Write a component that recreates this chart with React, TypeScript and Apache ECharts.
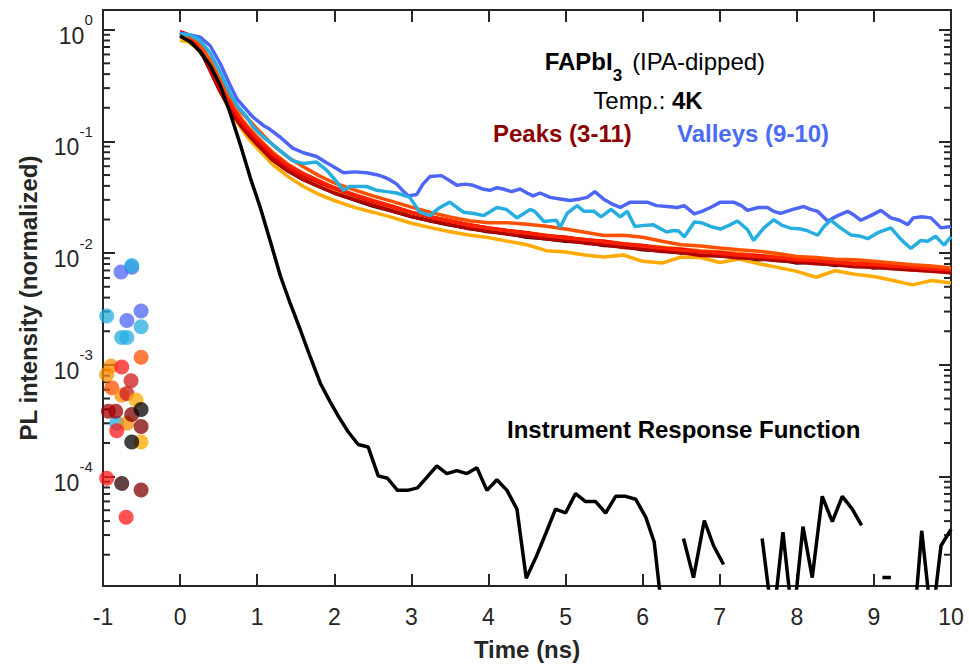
import React, { useEffect, useRef } from "react";
import * as echarts from "echarts";

const FONT = '"Liberation Sans", Arial, Helvetica, sans-serif';
const INK = "#262626";

// ---------- axes ----------
const xMin = -1;
const xMax = 10;
const xStep = 1;
const yMin = 1.05e-5;
const yMax = 1.5;
const yMajorTicks = [1e-4, 1e-3, 1e-2, 1e-1, 1];
const yMinorTicks = [
  2e-5, 3e-5, 4e-5, 5e-5, 6e-5, 7e-5, 8e-5, 9e-5,
  2e-4, 3e-4, 4e-4, 5e-4, 6e-4, 7e-4, 8e-4, 9e-4,
  2e-3, 3e-3, 4e-3, 5e-3, 6e-3, 7e-3, 8e-3, 9e-3,
  2e-2, 3e-2, 4e-2, 5e-2, 6e-2, 7e-2, 8e-2, 9e-2,
  2e-1, 3e-1, 4e-1, 5e-1, 6e-1, 7e-1, 8e-1, 9e-1,
];

// ---------- peaks (3-11) ----------
const peakNames = ["Peak 3", "Peak 4", "Peak 5", "Peak 6", "Peak 7", "Peak 8", "Peak 9", "Peak 10", "Peak 11"];
const peakColors = ["#2b0000", "#800000", "#b00000", "#e00000", "#ff2000", "#ff5000", "#ff7800", "#ff9500", "#ffab00"];
const peakDrawOrder = [8, 0, 1, 7, 2, 6, 3, 4, 5];
const peakTime = [
  0, 0.1, 0.2, 0.3, 0.4, 0.5, 0.6, 0.7, 0.8, 0.9, 1.0,
  1.2, 1.4, 1.6, 1.8, 2.0,
  2.25, 2.5, 2.75, 3.0, 3.25, 3.5, 3.75, 4.0, 4.25, 4.5, 4.75, 5.0,
  5.25, 5.5, 5.75, 6.0, 6.25, 6.5, 6.75, 7.0, 7.25, 7.5, 7.75, 8.0,
  8.25, 8.5, 8.75, 9.0, 9.25, 9.5, 9.75, 10.0,
];
const peak3 = [
  0.90, 0.86, 0.74, 0.58, 0.42, 0.30, 0.225, 0.17, 0.137, 0.113, 0.095,
  0.069, 0.055, 0.046, 0.040, 0.035,
  0.0305, 0.0268, 0.0242, 0.0216, 0.0197, 0.0181, 0.0170, 0.0158, 0.0152, 0.0141, 0.0137, 0.0130,
  0.0127, 0.0119, 0.0117, 0.0109, 0.0107, 0.0102, 0.0101, 0.0096, 0.0095, 0.0089, 0.0090, 0.0083,
  0.0085, 0.0079, 0.0081, 0.0075, 0.0077, 0.0072, 0.0074, 0.0069,
];
const peak4 = [
  0.95, 0.90, 0.79, 0.62, 0.45, 0.32, 0.24, 0.185, 0.148, 0.122, 0.103,
  0.075, 0.059, 0.049, 0.043, 0.037,
  0.0325, 0.0285, 0.0258, 0.0228, 0.0210, 0.0190, 0.0179, 0.0165, 0.0160, 0.0148, 0.0145, 0.0136,
  0.0134, 0.0124, 0.0122, 0.0114, 0.0112, 0.0105, 0.0105, 0.0098, 0.0099, 0.0093, 0.0093, 0.0087,
  0.0088, 0.0082, 0.0082, 0.0078, 0.0078, 0.0076, 0.0072, 0.0072,
];
const peak5 = [
  0.93, 0.88, 0.76, 0.59, 0.42, 0.30, 0.225, 0.172, 0.136, 0.113, 0.095,
  0.069, 0.055, 0.046, 0.040, 0.035,
  0.0308, 0.0272, 0.0243, 0.0216, 0.0198, 0.0183, 0.0168, 0.0160, 0.0150, 0.0144, 0.0136, 0.0132,
  0.0125, 0.0121, 0.0114, 0.0111, 0.0105, 0.0103, 0.0097, 0.0096, 0.0092, 0.0091, 0.0087, 0.0085,
  0.0082, 0.0080, 0.0077, 0.0076, 0.0074, 0.0072, 0.0070, 0.0068,
];
const peak6 = [
  0.96, 0.91, 0.79, 0.61, 0.43, 0.31, 0.235, 0.18, 0.145, 0.121, 0.102,
  0.075, 0.060, 0.050, 0.0435, 0.0385,
  0.0335, 0.0295, 0.0265, 0.0235, 0.0214, 0.0197, 0.0181, 0.0171, 0.0161, 0.0155, 0.0145, 0.0141,
  0.0133, 0.0130, 0.0122, 0.0119, 0.0112, 0.0110, 0.0104, 0.0103, 0.0098, 0.0097, 0.0092, 0.0091,
  0.0087, 0.0087, 0.0081, 0.0082, 0.0077, 0.0078, 0.0073, 0.0075,
];
const peak7 = [
  0.94, 0.90, 0.80, 0.64, 0.47, 0.34, 0.255, 0.195, 0.155, 0.128, 0.108,
  0.079, 0.062, 0.052, 0.045, 0.039,
  0.034, 0.030, 0.0267, 0.0236, 0.0215, 0.0198, 0.0182, 0.0171, 0.0161, 0.0153, 0.0146, 0.0139,
  0.0135, 0.0128, 0.0123, 0.0117, 0.0113, 0.0108, 0.0105, 0.0101, 0.0098, 0.0095, 0.0093, 0.0089,
  0.0087, 0.0084, 0.0082, 0.0080, 0.0078, 0.0076, 0.0074, 0.0072,
];
const peak8 = [
  0.92, 0.90, 0.82, 0.68, 0.52, 0.38, 0.29, 0.225, 0.182, 0.155, 0.13,
  0.094, 0.073, 0.060, 0.050, 0.043,
  0.0375, 0.0330, 0.0295, 0.0262, 0.0235, 0.0214, 0.0198, 0.0190, 0.0190, 0.0184, 0.0177, 0.0167,
  0.0156, 0.0146, 0.0147, 0.0141, 0.0130, 0.0121, 0.0118, 0.0113, 0.0109, 0.0106, 0.0101, 0.0095,
  0.0093, 0.0090, 0.0089, 0.0086, 0.0083, 0.0080, 0.0078, 0.0075,
];
const peak9 = [
  0.90, 0.88, 0.80, 0.65, 0.48, 0.35, 0.26, 0.20, 0.16, 0.132, 0.111,
  0.081, 0.063, 0.052, 0.045, 0.039,
  0.0338, 0.0296, 0.0265, 0.0235, 0.0214, 0.0196, 0.0182, 0.0170, 0.0162, 0.0155, 0.0147, 0.0141,
  0.0135, 0.0130, 0.0124, 0.0119, 0.0115, 0.0111, 0.0107, 0.0104, 0.0101, 0.0097, 0.0095, 0.0092,
  0.0090, 0.0086, 0.0085, 0.0082, 0.0080, 0.0078, 0.0076, 0.0074,
];
const peak10 = [
  0.86, 0.85, 0.77, 0.63, 0.46, 0.33, 0.245, 0.19, 0.15, 0.124, 0.104,
  0.076, 0.059, 0.049, 0.042, 0.0365,
  0.0318, 0.0280, 0.0250, 0.0222, 0.0203, 0.0186, 0.0171, 0.0161, 0.0153, 0.0146, 0.0139, 0.0133,
  0.0128, 0.0122, 0.0117, 0.0112, 0.0108, 0.0104, 0.0101, 0.0097, 0.0094, 0.0091, 0.0088, 0.0086,
  0.0083, 0.0081, 0.0078, 0.0076, 0.0074, 0.0072, 0.0070, 0.0068,
];
const peak11 = [
  0.80, 0.78, 0.70, 0.58, 0.43, 0.30, 0.22, 0.165, 0.13, 0.105, 0.088,
  0.063, 0.049, 0.040, 0.034, 0.030,
  0.0262, 0.0236, 0.0212, 0.0188, 0.0172, 0.0158, 0.0148, 0.0140, 0.0130, 0.0121, 0.0107, 0.0104,
  0.0098, 0.0094, 0.0098, 0.0086, 0.0083, 0.0094, 0.0093, 0.0084, 0.0090, 0.0082, 0.0076, 0.0070,
  0.0062, 0.0071, 0.0066, 0.0063, 0.0058, 0.0053, 0.0058, 0.0055,
];
const peakValues = [peak3, peak4, peak5, peak6, peak7, peak8, peak9, peak10, peak11];

// ---------- valleys (9-10) ----------
const valleyBlueColor = "#4d66f6";
const valleyCyanColor = "#27aee0";
const valleyBlueTime = [
  0, 0.13, 0.26, 0.39, 0.52, 0.65, 0.74, 0.87, 0.95, 1.08,
  1.16, 1.30, 1.46, 1.60, 1.77, 1.90, 1.99, 2.12, 2.26, 2.42,
  2.55, 2.63, 2.72, 2.81, 2.90, 2.96, 3.07, 3.15, 3.24, 3.39,
  3.50, 3.59, 3.70, 3.80, 3.92, 4.02, 4.11, 4.19, 4.30, 4.41,
  4.50, 4.58, 4.67, 4.80, 4.93, 5.06, 5.19, 5.28, 5.38, 5.49,
  5.60, 5.71, 5.84, 5.93, 6.06, 6.18, 6.32, 6.45, 6.54, 6.67,
  6.77, 6.88, 7.01, 7.18, 7.28, 7.36, 7.50, 7.62, 7.70, 7.79,
  7.95, 8.09, 8.18, 8.27, 8.40, 8.53, 8.66, 8.75, 8.83, 8.96,
  9.09, 9.22, 9.33, 9.44, 9.51, 9.62, 9.74, 9.87, 10.0,
];
const valleyBlue = [
  0.93, 0.90, 0.86, 0.72, 0.50, 0.32, 0.24, 0.19, 0.165, 0.14,
  0.13, 0.11, 0.088, 0.080, 0.074, 0.065, 0.060, 0.053, 0.054, 0.053,
  0.051, 0.049, 0.046, 0.042, 0.036, 0.033, 0.034, 0.042, 0.049, 0.050,
  0.045, 0.041, 0.042, 0.041, 0.038, 0.037, 0.039, 0.038, 0.036, 0.038,
  0.035, 0.033, 0.035, 0.032, 0.031, 0.030, 0.031, 0.032, 0.036, 0.031,
  0.028, 0.026, 0.029, 0.029, 0.029, 0.027, 0.0265, 0.026, 0.027, 0.0228,
  0.024, 0.026, 0.029, 0.029, 0.027, 0.0245, 0.026, 0.026, 0.024, 0.023,
  0.025, 0.0265, 0.025, 0.024, 0.0197, 0.022, 0.024, 0.022, 0.020, 0.022,
  0.0245, 0.021, 0.020, 0.0183, 0.021, 0.0215, 0.021, 0.0171, 0.0176,
];
const valleyCyanTime = [
  0, 0.13, 0.26, 0.39, 0.52, 0.65, 0.74, 0.87, 0.95, 1.08,
  1.16, 1.30, 1.46, 1.60, 1.77, 1.90, 2.02, 2.12, 2.20, 2.30,
  2.42, 2.55, 2.68, 2.81, 2.98, 3.11, 3.24, 3.37, 3.50, 3.59,
  3.68, 3.81, 3.94, 4.11, 4.23, 4.37, 4.46, 4.54, 4.60, 4.72,
  4.88, 4.93, 5.02, 5.15, 5.24, 5.37, 5.46, 5.59, 5.71, 5.80,
  5.90, 6.02, 6.14, 6.22, 6.31, 6.40, 6.47, 6.54, 6.67, 6.76,
  6.88, 7.01, 7.12, 7.23, 7.36, 7.44, 7.57, 7.70, 7.81, 7.92,
  8.03, 8.13, 8.27, 8.35, 8.44, 8.57, 8.70, 8.81, 8.92, 9.05,
  9.22, 9.35, 9.48, 9.61, 9.70, 9.80, 9.91, 10.0,
];
const valleyCyan = [
  0.92, 0.90, 0.80, 0.62, 0.42, 0.27, 0.21, 0.165, 0.135, 0.11,
  0.10, 0.083, 0.068, 0.064, 0.066, 0.056, 0.045, 0.037, 0.040, 0.040,
  0.040, 0.037, 0.036, 0.035, 0.032, 0.0236, 0.022, 0.026, 0.029, 0.026,
  0.0236, 0.023, 0.022, 0.026, 0.025, 0.021, 0.023, 0.025, 0.024, 0.0195,
  0.020, 0.0173, 0.023, 0.027, 0.024, 0.024, 0.0214, 0.025, 0.0214, 0.024,
  0.0176, 0.018, 0.0182, 0.017, 0.0157, 0.0162, 0.016, 0.0142, 0.0193, 0.019,
  0.0176, 0.0167, 0.018, 0.0197, 0.0165, 0.0132, 0.017, 0.0202, 0.018, 0.017,
  0.0168, 0.0162, 0.0147, 0.0175, 0.020, 0.017, 0.0148, 0.0145, 0.0137, 0.0155,
  0.0171, 0.0135, 0.0112, 0.0132, 0.013, 0.0144, 0.012, 0.0143,
];

// ---------- instrument response function (null = no positive value, line breaks) ----------
const irfTime = [
  0, 0.13, 0.26, 0.39, 0.52, 0.65, 0.78, 0.91, 1.04, 1.17,
  1.30, 1.43, 1.56, 1.69, 1.82, 1.94, 2.05, 2.18, 2.31, 2.44,
  2.57, 2.69, 2.82, 2.95, 3.08, 3.20, 3.33, 3.46, 3.59, 3.72,
  3.85, 3.98, 4.11, 4.24, 4.37, 4.49, 4.62, 4.75, 4.87, 5.00,
  5.13, 5.26, 5.39, 5.52, 5.65, 5.78, 5.91, 6.04, 6.15, 6.27,
  6.40, 6.53, 6.66, 6.80, 6.92, 7.05, 7.30, 7.55, 7.69, 7.82,
  7.95, 8.08, 8.20, 8.33, 8.46, 8.59, 8.72, 8.84, 8.97, 9.11,
  9.22, 9.35, 9.52, 9.62, 9.75, 9.87, 10.0,
];
const irfValue = [
  0.88, 0.78, 0.64, 0.48, 0.32, 0.18, 0.095, 0.048, 0.026, 0.013,
  0.0064, 0.0036, 0.0021, 0.0012, 7.0e-4, 4.9e-4, 3.6e-4, 2.6e-4, 2.0e-4, 1.9e-4,
  1.05e-4, 1.0e-4, 7.8e-5, 7.8e-5, 8.2e-5, 1.02e-4, 1.29e-4, 1.1e-4, 1.17e-4, 1.1e-4,
  1.24e-4, 7.8e-5, 9.7e-5, 7.8e-5, 5.3e-5, 1.28e-5, 2.0e-5, 3.3e-5, 5.3e-5, 4.9e-5,
  7.3e-5, 6.2e-5, 6.2e-5, 4.9e-5, 6.9e-5, 6.9e-5, 6.5e-5, 4.5e-5, 2.7e-5, 5e-6,
  null, 2.9e-5, 1.3e-5, 4.2e-5, 2.5e-5, 1.7e-5, null, 2.9e-5, 5e-6, 3.3e-5,
  5e-6, 3.7e-5, 1.3e-5, 6.9e-5, 4.1e-5, 6.9e-5, 5.3e-5, 3.8e-5, null, 1.3e-5,
  1.3e-5, null, 5e-6, 3.4e-5, 5e-6, 2.5e-5, 3.5e-5,
];

// ---------- pre-zero noise points ----------
const noiseTime = [
  -0.766, -0.627, -0.506, -0.69,
  -0.627, -0.952, -0.506, -0.757, -0.69, -0.822,
  -0.506, -0.887,
  -0.896, -0.952, -0.757, -0.69,
  -0.757, -0.822, -0.952, -0.70,
  -0.636, -0.69,
  -0.571, -0.506,
  -0.93, -0.835,
  -0.627, -0.506, -0.506,
  -0.506, -0.627,
  -0.757,
];
const noiseValue = [
  6.9e-3, 7.6e-3, 3.1e-3, 2.55e-3,
  7.9e-3, 2.8e-3, 2.25e-3, 1.8e-3, 1.8e-3, 3.1e-4,
  1.2e-3, 6.4e-4,
  1.0e-3, 8.4e-4, 5.5e-4, 3.1e-4,
  9.8e-4, 2.65e-4, 1.0e-4, 4.5e-5,
  7.4e-4, 5.7e-4,
  5.0e-4, 2.1e-4,
  3.95e-4, 3.95e-4,
  3.7e-4, 2.9e-4, 7.85e-5,
  4.1e-4, 2.1e-4,
  9.0e-5,
];
const noiseColor = [
  valleyBlueColor, valleyBlueColor, valleyBlueColor, valleyBlueColor,
  valleyCyanColor, valleyCyanColor, valleyCyanColor, valleyCyanColor, valleyCyanColor, valleyCyanColor,
  "#ff5000", "#ff5000",
  "#ff8c00", "#ff8c00", "#ff8c00", "#ff8c00",
  "#ff1a1a", "#ff1a1a", "#ff1a1a", "#ff1a1a",
  "#cc1a1a", "#cc1a1a",
  "#ffab00", "#ffab00",
  "#a00000", "#a00000",
  "#800000", "#800000", "#800000",
  "#000000", "#000000",
  "#2b0000",
];

const irfColor = "#000000";
const LINE_W = 3.5;
const MAJOR_LEN = 12;
const MINOR_LEN = 7;
const GRID = { left: 103, right: 18, top: 10, bottom: 78 };

function frameLine() {
  return { show: true, onZero: false, lineStyle: { color: INK, width: 2 } };
}
function majorTicks(values: number[] | null) {
  const t: any = { show: true, inside: true, length: MAJOR_LEN, lineStyle: { color: INK, width: 2 } };
  if (values) t.customValues = values;
  return t;
}

function irfSegments() {
  const segs: number[][][] = [];
  let cur: number[][] = [];
  irfTime.forEach((t, i) => {
    const v = irfValue[i];
    if (v === null) {
      if (cur.length) segs.push(cur);
      cur = [];
    } else {
      cur.push([t, v]);
    }
  });
  if (cur.length) segs.push(cur);
  return segs;
}

function textElements() {
  return [
    {
      type: "text",
      x: 655,
      y: 49,
      z: 100,
      style: {
        text: "{b|FAPbI}{sub|3}{r|(IPA-dipped)}{z| }",
        align: "center",
        verticalAlign: "top",
        rich: {
          b: { fontSize: 24, fontWeight: "bold", fontFamily: FONT, fill: "#000", lineHeight: 24, verticalAlign: "top" },
          sub: { fontSize: 17, fontWeight: "bold", fontFamily: FONT, fill: "#000", lineHeight: 17, verticalAlign: "bottom", padding: [0, 10, 0, 0] },
          r: { fontSize: 24, fontFamily: FONT, fill: "#000", lineHeight: 24, verticalAlign: "top" },
          z: { fontSize: 1, lineHeight: 35 },
        },
      },
    },
    {
      type: "text",
      x: 648,
      y: 100,
      z: 100,
      style: {
        text: "{r|Temp.: }{b|4K}",
        align: "center",
        verticalAlign: "middle",
        rich: {
          r: { fontSize: 24, fontFamily: FONT, fill: "#000" },
          b: { fontSize: 24, fontWeight: "bold", fontFamily: FONT, fill: "#000" },
        },
      },
    },
    {
      type: "text",
      x: 493,
      y: 133,
      z: 100,
      style: { text: "Peaks (3-11)", fill: "#8b0000", fontSize: 24, fontWeight: "bold", fontFamily: FONT, align: "left", verticalAlign: "middle" },
    },
    {
      type: "text",
      x: 677,
      y: 133,
      z: 100,
      style: { text: "Valleys (9-10)", fill: "#4a6bf5", fontSize: 24, fontWeight: "bold", fontFamily: FONT, align: "left", verticalAlign: "middle" },
    },
    {
      type: "text",
      x: 507,
      y: 429,
      z: 100,
      style: { text: "Instrument Response Function", fill: "#000", fontSize: 24, fontWeight: "bold", fontFamily: FONT, align: "left", verticalAlign: "middle" },
    },
  ];
}

// Layer 1: frame, axes, ticks, labels and annotations
function buildFrameOption() {
  const yLabelFormatter = (v: number) => {
    const e = Math.round(Math.log10(v));
    return `{b|10}{s|${e}}{z| }`;
  };
  const minorTickSeries = {
    type: "custom",
    data: yMinorTicks.map((v) => [xMin, v]),
    encode: { x: 0, y: 1 },
    clip: false,
    silent: true,
    z: 6,
    renderItem: (p: any, api: any) => {
      const v = api.value(1);
      const a = api.coord([xMin, v]);
      const b = api.coord([xMax, v]);
      return {
        type: "group",
        children: [
          { type: "line", shape: { x1: a[0], y1: a[1], x2: a[0] + MINOR_LEN, y2: a[1] }, style: { stroke: INK, lineWidth: 2 } },
          { type: "line", shape: { x1: b[0] - MINOR_LEN, y1: b[1], x2: b[0], y2: b[1] }, style: { stroke: INK, lineWidth: 2 } },
        ],
      };
    },
  };
  return {
    animation: false,
    grid: GRID,
    xAxis: [
      {
        type: "value",
        position: "bottom",
        min: xMin,
        max: xMax,
        interval: xStep,
        axisLine: frameLine(),
        axisTick: majorTicks(null),
        axisLabel: { color: INK, fontSize: 23, fontFamily: FONT, margin: 19 },
        splitLine: { show: false },
        name: "Time (ns)",
        nameLocation: "middle",
        nameGap: 51,
        nameTextStyle: { color: INK, fontSize: 24, fontWeight: "bold", fontFamily: FONT },
      },
      {
        type: "value",
        position: "top",
        min: xMin,
        max: xMax,
        interval: xStep,
        axisLine: frameLine(),
        axisTick: majorTicks(null),
        axisLabel: { show: false },
        splitLine: { show: false },
      },
    ],
    yAxis: [
      {
        type: "log",
        position: "left",
        min: yMin,
        max: yMax,
        axisLine: frameLine(),
        axisTick: majorTicks(yMajorTicks),
        axisLabel: {
          customValues: yMajorTicks,
          formatter: yLabelFormatter,
          margin: 10,
          rich: {
            b: { fontSize: 23, fontFamily: FONT, color: INK, lineHeight: 23, verticalAlign: "bottom" },
            s: { fontSize: 15, fontFamily: FONT, color: INK, lineHeight: 29, verticalAlign: "top" },
            z: { fontSize: 1, lineHeight: 35 },
          },
        },
        splitLine: { show: false },
        name: "PL intensity (normalized)",
        nameLocation: "middle",
        nameGap: 63,
        nameRotate: 90,
        nameTextStyle: { color: INK, fontSize: 24, fontWeight: "bold", fontFamily: FONT },
      },
      {
        type: "log",
        position: "right",
        min: yMin,
        max: yMax,
        axisLine: frameLine(),
        axisTick: majorTicks(yMajorTicks),
        axisLabel: { show: false },
        splitLine: { show: false },
      },
    ],
    graphic: { elements: textElements() },
    series: [minorTickSeries],
  };
}

// Layer 2: the data, on identical (hidden) scales
function buildDataOption() {
  const peakSeries = peakDrawOrder.map((i) => ({
    type: "line",
    name: peakNames[i],
    data: peakTime.map((t, j) => [t, peakValues[i][j]]),
    showSymbol: false,
    symbol: "none",
    lineStyle: { color: peakColors[i], width: LINE_W },
    itemStyle: { color: peakColors[i] },
    z: 3,
  }));
  const valleySeries = [
    { name: "Valley 9", time: valleyBlueTime, vals: valleyBlue, color: valleyBlueColor },
    { name: "Valley 10", time: valleyCyanTime, vals: valleyCyan, color: valleyCyanColor },
  ].map((v) => ({
    type: "line",
    name: v.name,
    data: v.time.map((t, j) => [t, v.vals[j]]),
    showSymbol: false,
    symbol: "none",
    lineStyle: { color: v.color, width: LINE_W },
    itemStyle: { color: v.color },
    z: 4,
  }));
  const irfSeries = irfSegments().map((seg, k) => ({
    type: "line",
    name: "IRF " + k,
    data: seg,
    showSymbol: false,
    symbol: "none",
    lineStyle: { color: irfColor, width: LINE_W },
    itemStyle: { color: irfColor },
    z: 5,
  }));
  const noiseSeries = {
    type: "scatter",
    name: "noise",
    data: noiseTime.map((t, j) => ({
      value: [t, noiseValue[j]],
      itemStyle: { color: noiseColor[j], opacity: 0.75 },
    })),
    symbol: "circle",
    symbolSize: 15,
    z: 2,
  };
  return {
    animation: false,
    backgroundColor: "transparent",
    grid: GRID,
    xAxis: { type: "value", min: xMin, max: xMax, interval: xStep, show: false },
    yAxis: { type: "log", min: yMin, max: yMax, show: false },
    series: [noiseSeries, ...peakSeries, ...valleySeries, ...irfSeries],
  };
}

export default function App() {
  const frameRef = useRef<HTMLDivElement>(null);
  const dataRef = useRef<HTMLDivElement>(null);
  useEffect(() => {
    if (!frameRef.current || !dataRef.current) return;
    const frame = echarts.init(frameRef.current, null, { renderer: "svg" });
    const data = echarts.init(dataRef.current, null, { renderer: "svg" });
    try {
      frame.setOption(buildFrameOption() as any);
    } catch (e) {
      /* keep the data layer going */
    }
    try {
      data.setOption(buildDataOption() as any);
    } catch (e) {
      /* ignore */
    }
    return () => {
      frame.dispose();
      data.dispose();
    };
  }, []);
  const box: any = { position: "absolute", left: 0, top: 0, width: 969, height: 666 };
  return (
    <div style={{ ...box, background: "#fff" }}>
      <div ref={frameRef} style={box} />
      <div ref={dataRef} style={{ ...box, pointerEvents: "none" }} />
    </div>
  );
}
